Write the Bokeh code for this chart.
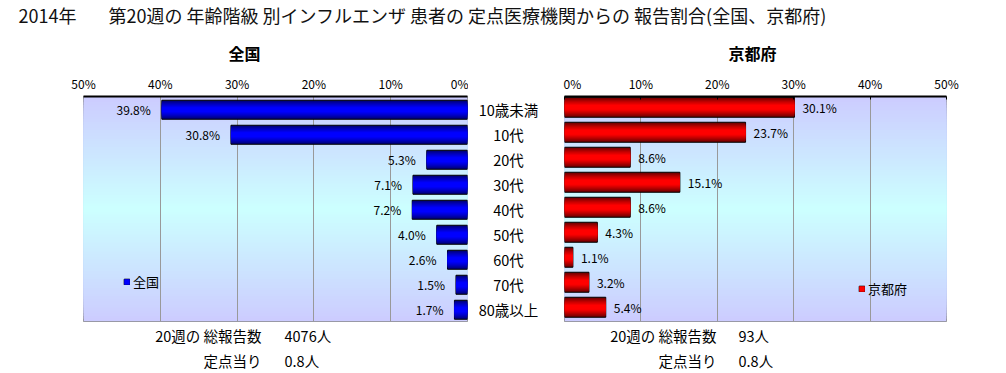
import numpy as np
from bokeh.plotting import figure
from bokeh.layouts import column, row
from bokeh.models import (ColumnDataSource, FactorRange, Range1d, FixedTicker,
                          PrintfTickFormatter, Legend, LegendItem)
from bokeh.transform import dodge
from bokeh.core.properties import value
from bokeh.embed import file_html
from bokeh.resources import INLINE

# ---------------- data ----------------
title_year = "2014年"
title_main = "第20週の 年齢階級 別インフルエンザ 患者の 定点医療機関からの 報告割合(全国、京都府)"
categories = ["10歳未満", "10代", "20代", "30代", "40代", "50代", "60代", "70代", "80歳以上"]
national = [39.8, 30.8, 5.3, 7.1, 7.2, 4.0, 2.6, 1.5, 1.7]
kyoto = [30.1, 23.7, 8.6, 15.1, 8.6, 4.3, 1.1, 3.2, 5.4]
panel_titles = ["全国", "京都府"]
x_ticks = [0, 10, 20, 30, 40, 50]
footer_labels = ["20週の 総報告数", "定点当り"]
national_footer = ["4076人", "0.8人"]
kyoto_footer = ["93人", "0.8人"]

FONT_NAME = "Noto Sans CJK JP"
FONT = value(FONT_NAME)

yr = FactorRange(factors=categories[::-1], range_padding=0)


def hexcol(c):
    return "#%02x%02x%02x" % tuple(int(round(v)) for v in c)


def lerp(a, b, t):
    return tuple(a[i] + (b[i] - a[i]) * t for i in range(3))


def panel(vals, dark, bright, x_range, width, mb_left, mb_right, dv, bar_h,
          align, xoff, tick_in, legend_name, legend_loc):
    src = ColumnDataSource(dict(cat=categories, val=vals,
                                lab=["%.1f%%" % v for v in vals]))
    p = figure(width=width, height=255, x_range=x_range, y_range=yr,
               x_axis_location="above", y_axis_location=None,
               toolbar_location=None, output_backend="svg",
               min_border_left=mb_left, min_border_right=mb_right,
               min_border_top=28, min_border_bottom=2)
    p.outline_line_color = "#888888"
    p.background_fill_color = "#ffffff"
    p.border_fill_color = "#ffffff"

    # background vertical gradient (lavender -> cyan -> lavender)
    n = 40
    lav = (204, 204, 255)
    cya = (204, 255, 255)
    bots = [k * 4.5 / n for k in range(n)]
    tops = [9 - k * 4.5 / n for k in range(n)]
    cols = [hexcol(lerp(lav, cya, k / (n - 1))) for k in range(n)]
    p.quad(left=0, right=50, bottom=bots, top=tops, fill_color=cols,
           line_color=None, level="image")

    # bars with a glossy vertical gradient
    L = 8
    ycol = dodge("cat", dv, range=yr)
    first = None
    last = None
    for k in range(L):
        frac = 1.0 - k * 0.85 / L
        c = hexcol(lerp(dark, bright, (k / (L - 1)) ** 0.8))
        if k == 0:
            first = p.hbar(y=ycol, left=0, right="val", height=bar_h, source=src,
                           fill_color=c, line_color="black", line_width=1)
        else:
            last = p.hbar(y=ycol, left=0, right="val", height=bar_h * frac,
                          source=src, fill_color=c, line_color=None)

    p.text(x="val", y=ycol, text="lab", source=src, text_align=align,
           text_baseline="middle", x_offset=xoff, text_font=FONT,
           text_font_size="12px", text_color="black")

    p.xgrid.ticker = FixedTicker(ticks=x_ticks)
    p.xgrid.grid_line_color = "#999999"
    p.ygrid.visible = False
    ax = p.xaxis[0]
    ax.ticker = FixedTicker(ticks=x_ticks)
    ax.formatter = PrintfTickFormatter(format="%d%%")
    ax.axis_line_color = "black"
    ax.axis_line_width = 2
    ax.major_tick_out = 0
    ax.major_tick_in = tick_in
    ax.major_tick_line_color = "black"
    ax.minor_tick_out = 0
    ax.minor_tick_in = 0
    ax.major_label_text_font = FONT_NAME
    ax.major_label_text_font_size = "12px"
    ax.major_label_text_color = "black"
    ax.major_label_standoff = 5

    leg = Legend(items=[LegendItem(label=legend_name, renderers=[first, last])],
                 location=legend_loc, background_fill_alpha=0,
                 border_line_alpha=0, margin=0, padding=0, glyph_width=7,
                 glyph_height=7, label_standoff=3, label_text_font_size="13px",
                 label_text_font=FONT_NAME, label_text_color="black",
                 label_height=13, spacing=0)
    p.add_layout(leg)
    return p


left = panel(national, (0, 0, 110), (0, 0, 255), Range1d(50, 0), 468, 83, 1,
             -0.03, 0.76, "right", -11, 0, panel_titles[0], (40, 30))
right = panel(kyoto, (100, 0, 0), (255, 0, 0), Range1d(0, 50), 435, 1, 52,
              0.07, 0.8, "left", 8, 3, panel_titles[1], (294, 23))

# middle category labels
mid = figure(width=95, height=255, x_range=Range1d(0, 95), y_range=yr,
             toolbar_location=None, output_backend="svg",
             x_axis_location=None, y_axis_location=None,
             min_border_left=0, min_border_right=0, min_border_top=28,
             min_border_bottom=2)
mid.outline_line_color = None
mid.grid.visible = False
mid.text(x=40, y="cat", text="cat", source=ColumnDataSource(dict(cat=categories)),
         text_align="center", text_baseline="middle", text_font=FONT,
         text_font_size="14.5px", text_color="black")

W = 998
# title strip
top = figure(width=W, height=68, x_range=Range1d(0, W), y_range=Range1d(68, 0),
             toolbar_location=None, output_backend="svg",
             x_axis_location=None, y_axis_location=None, min_border=0)
top.outline_line_color = None
top.grid.visible = False
top.text(x=[18], y=[14], text=[title_year], text_font=FONT, text_font_size="18px",
         text_baseline="middle", text_align="left", text_color="#111111")
top.text(x=[108], y=[14], text=[title_main], text_font=FONT, text_font_size="18px",
         text_baseline="middle", text_align="left", text_color="#111111")
top.text(x=[244, 752], y=[52, 52], text=panel_titles, text_font=FONT,
         text_font_size="16px", text_font_style="bold", text_baseline="middle",
         text_align="center", text_color="black")

# footer strip
foot = figure(width=W, height=48, x_range=Range1d(0, W), y_range=Range1d(48, 0),
              toolbar_location=None, output_backend="svg",
              x_axis_location=None, y_axis_location=None, min_border=0)
foot.outline_line_color = None
foot.grid.visible = False
for xl, xv, vals in [(261, 284, national_footer), (716, 738, kyoto_footer)]:
    foot.text(x=[xl, xl], y=[12, 37], text=footer_labels, text_font=FONT,
              text_font_size="14.5px", text_align="right", text_baseline="middle",
              text_color="black")
    foot.text(x=[xv, xv], y=[12, 37], text=vals, text_font=FONT,
              text_font_size="14.5px", text_align="left", text_baseline="middle",
              text_color="black")

p = column(top, row(left, mid, right), foot)
open("out.html", "w").write(file_html(p, INLINE))
